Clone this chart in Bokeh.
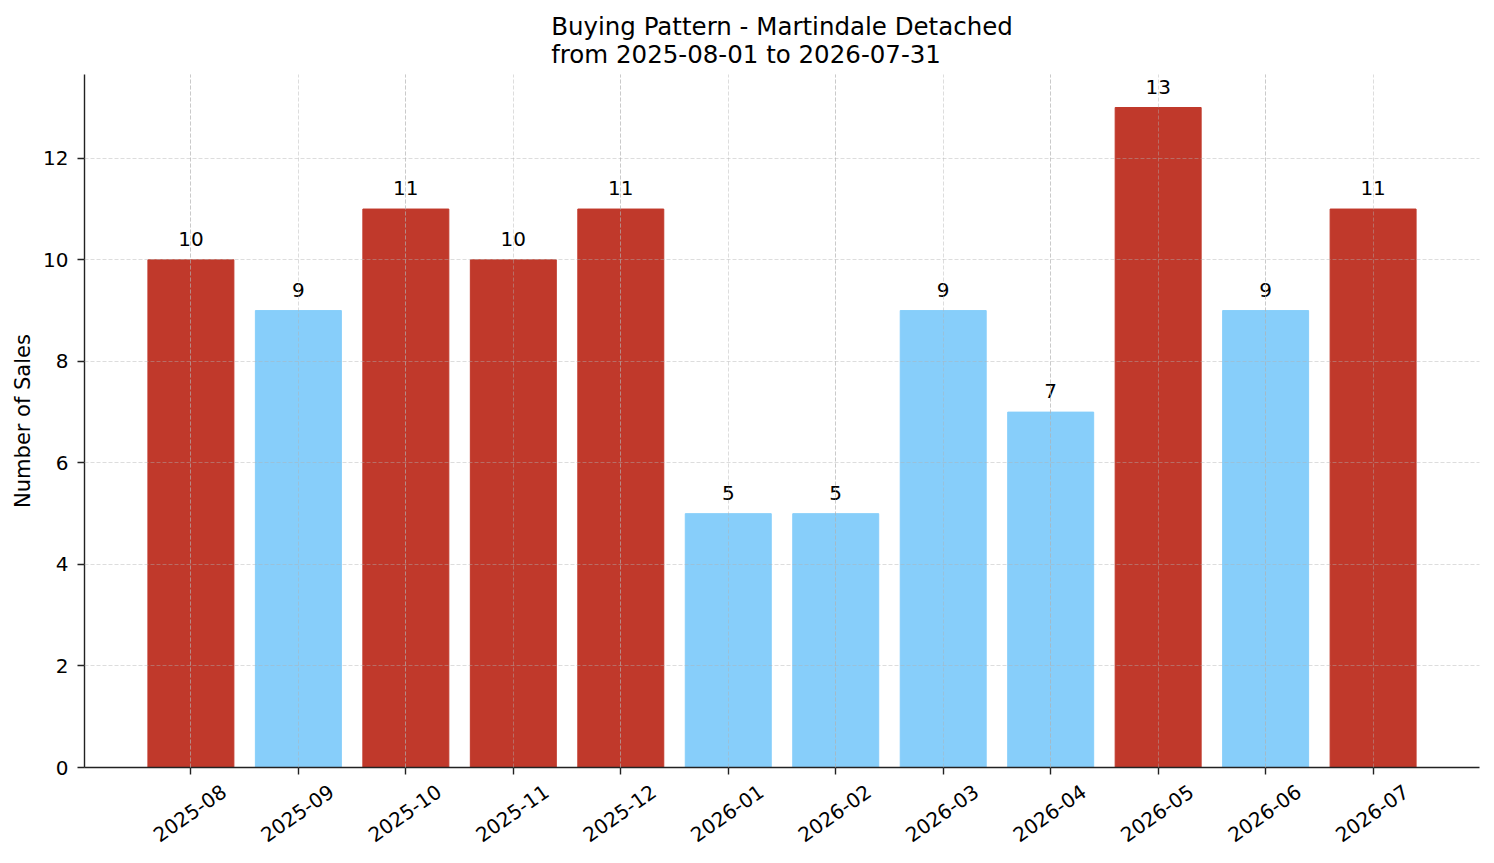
from bokeh.plotting import figure
from bokeh.models import ColumnDataSource, FixedTicker, Range1d, LinearAxis, Grid
from bokeh.core.properties import value
from bokeh.embed import file_html
from bokeh.resources import INLINE

months = ["2025-08", "2025-09", "2025-10", "2025-11", "2025-12", "2026-01",
          "2026-02", "2026-03", "2026-04", "2026-05", "2026-06", "2026-07"]
sales = [10, 9, 11, 10, 11, 5, 5, 9, 7, 13, 9, 11]
threshold = 10

HIGH = "#c0392b"
LOW = "#87cefa"
FONT = "DejaVu Sans"
INK = "#222222"

positions = list(range(len(months)))
source = ColumnDataSource(data=dict(
    x=positions,
    y=sales,
    label=[str(v) for v in sales],
    color=[HIGH if v >= threshold else LOW for v in sales],
))

x_start, x_end = -0.99, len(months) - 1 + 0.99
p = figure(
    width=1486, height=855,
    x_range=Range1d(x_start, x_end),
    y_range=Range1d(0, max(sales) * 1.05),
    title="Buying Pattern - Martindale Detached\nfrom 2025-08-01 to 2026-07-31",
    y_axis_label="Number of Sales",
    x_axis_location=None,
    toolbar_location=None,
    output_backend="svg",
    min_border_left=84, min_border_right=7,
    min_border_top=74, min_border_bottom=88,
)
p.outline_line_color = None

# bars
p.vbar(x="x", top="y", width=0.8, color="color", source=source)

# value labels
p.text(x="x", y="y", text="label", source=source, y_offset=-21,
       text_align="center", text_baseline="alphabetic",
       text_font_size="20px", text_color="black", text_font=value(FONT))

# title
p.title.align = "center"
p.title.text_font = FONT
p.title.text_font_size = "24.5px"
p.title.text_font_style = "normal"
p.title.text_color = "black"
p.title.text_line_height = 0.97
p.title.standoff = 10

# y axis
p.yaxis.ticker = FixedTicker(ticks=[0, 2, 4, 6, 8, 10, 12])
p.yaxis.major_label_standoff = 9
p.yaxis.axis_label_standoff = 5
p.yaxis.axis_line_color = INK
p.yaxis.axis_line_width = 1.4
p.yaxis.major_tick_line_color = INK
p.yaxis.major_tick_line_width = 1.4
p.yaxis.major_tick_out = 7
p.yaxis.major_tick_in = 0
p.yaxis.minor_tick_line_color = None
p.yaxis.major_label_text_font = FONT
p.yaxis.major_label_text_font_size = "20px"
p.yaxis.major_label_text_color = "black"
p.yaxis.axis_label_text_font = FONT
p.yaxis.axis_label_text_font_size = "21px"
p.yaxis.axis_label_text_font_style = "normal"
p.yaxis.axis_label_text_color = "black"

# x axis: month labels centred under each tick via a shifted range,
# tick marks drawn as minor ticks at the true bar positions
shift = 0.31
p.extra_x_ranges = {"labels": Range1d(x_start - shift, x_end - shift)}
xaxis = LinearAxis(
    x_range_name="labels",
    ticker=FixedTicker(ticks=positions, minor_ticks=[i - shift for i in positions]),
)
xaxis.major_label_overrides = {i: m for i, m in enumerate(months)}
xaxis.major_label_orientation = 0.61
xaxis.axis_line_color = INK
xaxis.axis_line_width = 1.4
xaxis.major_tick_line_color = None
xaxis.major_tick_out = 7
xaxis.major_tick_in = 0
xaxis.minor_tick_line_color = INK
xaxis.minor_tick_line_width = 1.4
xaxis.minor_tick_out = 7
xaxis.minor_tick_in = 0
xaxis.major_label_standoff = 15
xaxis.major_label_text_font = FONT
xaxis.major_label_text_font_size = "20px"
xaxis.major_label_text_color = "black"
p.add_layout(xaxis, "below")

# dashed grid drawn over the bars
p.add_layout(Grid(dimension=0, ticker=FixedTicker(ticks=positions)))
for g in p.grid:
    g.grid_line_color = "#b0b0b0"
    g.grid_line_alpha = 0.55
    g.grid_line_dash = "4 2"
    g.grid_line_width = 0.8
    g.level = "overlay"

open("out.html", "w").write(file_html(p, INLINE))
